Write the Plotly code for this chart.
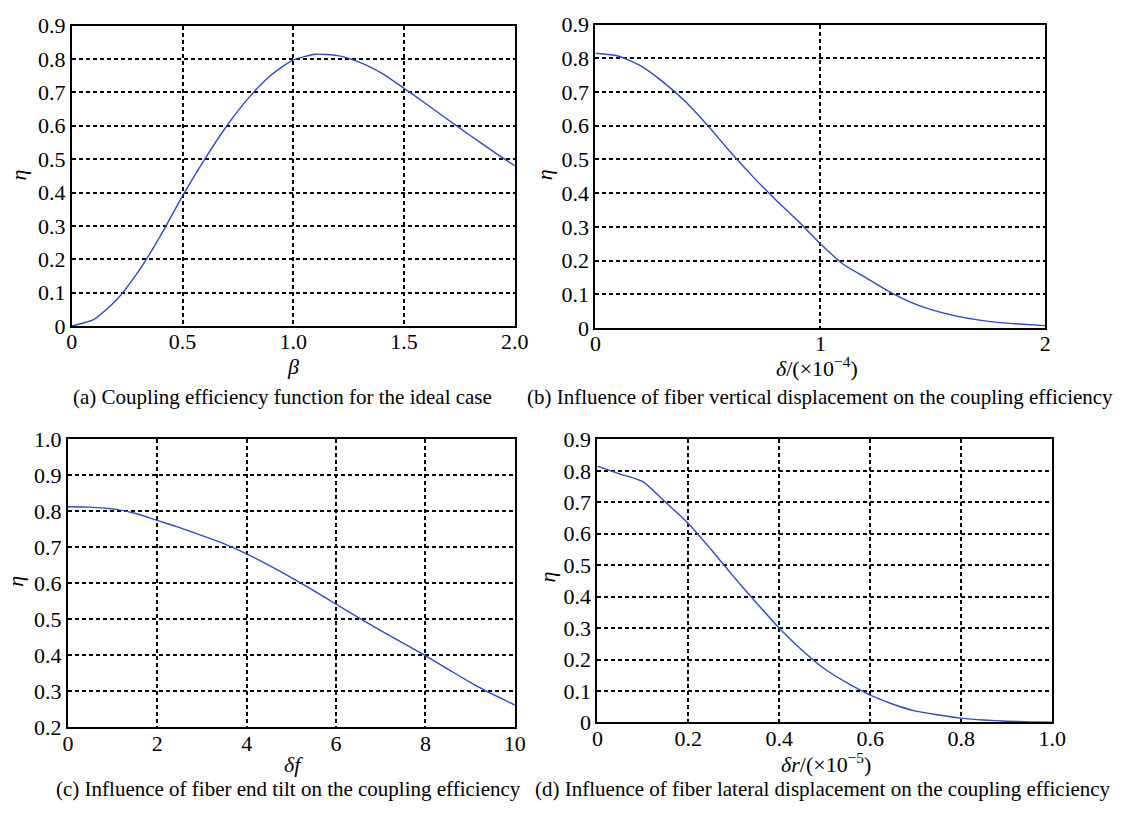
import plotly.graph_objects as go

# ---------------- data ----------------
beta = [0, 0.1, 0.2, 0.3, 0.4, 0.5, 0.6, 0.7, 0.8, 0.9, 1.0, 1.1, 1.2, 1.3, 1.4, 1.5, 1.6, 1.7, 1.8, 1.9, 2.0]
eta_a = [0, 0.02, 0.077, 0.163, 0.27, 0.39, 0.50, 0.60, 0.685, 0.752, 0.797, 0.814, 0.810, 0.790, 0.757, 0.712, 0.665, 0.617, 0.570, 0.524, 0.48]

delta = [0, 0.1, 0.2, 0.3, 0.4, 0.5, 0.6, 0.7, 0.8, 0.9, 1.0, 1.1, 1.2, 1.3, 1.4, 1.5, 1.6, 1.7, 1.8, 1.9, 2.0]
eta_b = [0.815, 0.807, 0.778, 0.73, 0.672, 0.60, 0.522, 0.449, 0.381, 0.318, 0.25, 0.19, 0.15, 0.11, 0.077, 0.053, 0.036, 0.024, 0.016, 0.011, 0.007]

delta_f = [0, 0.5, 1, 1.5, 2, 2.5, 3, 3.5, 4, 4.5, 5, 5.5, 6, 6.5, 7, 7.5, 8, 8.5, 9, 9.5, 10]
eta_c = [0.813, 0.812, 0.807, 0.795, 0.775, 0.755, 0.733, 0.71, 0.682, 0.65, 0.616, 0.58, 0.542, 0.505, 0.469, 0.434, 0.399, 0.362, 0.325, 0.292, 0.262]

delta_r = [0, 0.05, 0.1, 0.15, 0.2, 0.25, 0.3, 0.35, 0.4, 0.45, 0.5, 0.55, 0.6, 0.65, 0.7, 0.75, 0.8, 0.85, 0.9, 0.95, 1.0]
eta_d = [0.815, 0.79, 0.766, 0.70, 0.633, 0.55, 0.463, 0.38, 0.30, 0.23, 0.17, 0.125, 0.087, 0.058, 0.036, 0.024, 0.014, 0.008, 0.004, 0.002, 0.001]

xticks_a = [0, 0.5, 1.0, 1.5, 2.0]
xlabels_a = ["0", "0.5", "1.0", "1.5", "2.0"]
xticks_b = [0, 1, 2]
xlabels_b = ["0", "1", "2"]
xticks_c = [0, 2, 4, 6, 8, 10]
xlabels_c = ["0", "2", "4", "6", "8", "10"]
xticks_d = [0, 0.2, 0.4, 0.6, 0.8, 1.0]
xlabels_d = ["0", "0.2", "0.4", "0.6", "0.8", "1.0"]
yticks_09 = [0, 0.1, 0.2, 0.3, 0.4, 0.5, 0.6, 0.7, 0.8, 0.9]
ylabels_09 = ["0", "0.1", "0.2", "0.3", "0.4", "0.5", "0.6", "0.7", "0.8", "0.9"]
yticks_c = [0.2, 0.3, 0.4, 0.5, 0.6, 0.7, 0.8, 0.9, 1.0]
ylabels_c = ["0.2", "0.3", "0.4", "0.5", "0.6", "0.7", "0.8", "0.9", "1.0"]

captions = [
    "(a) Coupling efficiency function for the ideal case",
    "(b) Influence of fiber vertical displacement on the coupling efficiency",
    "(c) Influence of fiber end tilt on the coupling efficiency",
    "(d) Influence of fiber lateral displacement on the coupling efficiency",
]
xtitles = ["<i>β</i>", "<i>δ</i>/(×10<sup>−4</sup>)", "<i>δf</i>", "<i>δr</i>/(×10<sup>−5</sup>)"]
ytitle = "<i>η</i>"

# ---------------- styling ----------------
W, H = 1134, 814
FONT = "Liberation Serif, Times New Roman, serif"
BLUE = "rgb(45,75,200)"

def fx(px):
    return px / W

def fy(py):
    return 1 - py / H

# panel boxes in pixels: left, right, top, bottom
boxes = [
    (67, 518, 14, 324),
    (600, 1058, 13, 326),
    (63, 518, 441, 738),
    (602, 1065, 441, 733),
]

fig = go.Figure()
series = [(beta, eta_a), (delta, eta_b), (delta_f, eta_c), (delta_r, eta_d)]
for i, (xv, yv) in enumerate(series):
    sfx = "" if i == 0 else str(i + 1)
    fig.add_trace(go.Scatter(x=xv, y=yv, mode="lines",
                             line=dict(color=BLUE, width=1.4, shape="spline", smoothing=0.6),
                             xaxis="x" + sfx, yaxis="y" + sfx, showlegend=False))

xranges = [[0, 2], [0, 2], [0, 10], [0, 1]]
yranges = [[0, 0.9], [0, 0.9], [0.2, 1.0], [0, 0.9]]
xt = [(xticks_a, xlabels_a), (xticks_b, xlabels_b), (xticks_c, xlabels_c), (xticks_d, xlabels_d)]
yt = [(yticks_09, ylabels_09), (yticks_09, ylabels_09), (yticks_c, ylabels_c), (yticks_09, ylabels_09)]

axis_common = dict(
    showline=True, linecolor="black", linewidth=2, mirror=True,
    showgrid=True, gridcolor="black", gridwidth=1.8, griddash="4px,3px",
    zeroline=False, ticks="", tickfont=dict(family=FONT, size=22, color="black"),
)

layout = dict(
    width=W, height=H, margin=dict(l=0, r=0, t=0, b=0),
    paper_bgcolor="white", plot_bgcolor="white",
    font=dict(family=FONT, color="black"),
    showlegend=False,
)
for i, (l, r, t, b) in enumerate(boxes):
    sfx = "" if i == 0 else str(i + 1)
    layout["xaxis" + sfx] = dict(
        axis_common, domain=[fx(l), fx(r)], range=xranges[i], anchor="y" + sfx,
        tickmode="array", tickvals=xt[i][0], ticktext=xt[i][1], ticklabelstandoff=-5,
    )
    layout["yaxis" + sfx] = dict(
        axis_common, domain=[fy(b), fy(t)], range=yranges[i], anchor="x" + sfx,
        tickmode="array", tickvals=yt[i][0], ticktext=yt[i][1],
    )

fig.update_layout(**layout)

# axis titles
xtitle_pos = [(292, 366), (826, 366), (293, 776), (835, 775)]
for txt, (cx, cy) in zip(xtitles, xtitle_pos):
    fig.add_annotation(text=txt, xref="paper", yref="paper", x=fx(cx), y=fy(cy),
                       xanchor="center", yanchor="middle", showarrow=False,
                       font=dict(family=FONT, size=22, color="black"))
ytitle_pos = [(13, 168), (549, 168), (10, 587), (551, 583)]
for (cx, cy) in ytitle_pos:
    fig.add_annotation(text=ytitle, xref="paper", yref="paper", x=fx(cx), y=fy(cy),
                       xanchor="center", yanchor="middle", showarrow=False, textangle=-90,
                       font=dict(family=FONT, size=22, color="black"))

cap_pos = [(281, 397), (829, 397), (288, 802), (832, 802)]
for txt, (cx, cy) in zip(captions, cap_pos):
    fig.add_annotation(text=txt, xref="paper", yref="paper", x=fx(cx), y=fy(cy),
                       xanchor="center", yanchor="middle", showarrow=False,
                       font=dict(family=FONT, size=21, color="black"))

fig.write_html("out.html")
